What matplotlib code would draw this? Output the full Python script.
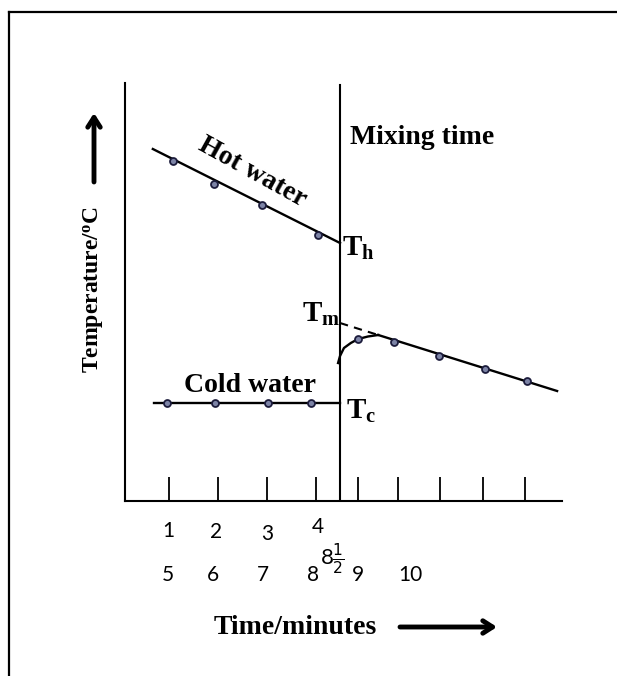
import numpy as np
import matplotlib
matplotlib.use('Agg')
from matplotlib import pyplot as plt

plt.rcParams['mathtext.fontset'] = 'custom'
plt.rcParams['mathtext.rm'] = 'Liberation Serif'
plt.rcParams['mathtext.bf'] = 'Liberation Serif:bold'

# time axis in tick units (1 tick = 1 reading), temperature in arbitrary units
tick_t = [1, 2, 3, 4, 4.86, 5.67, 6.53, 7.41, 8.27]
mix_t = 4.49

hot_t = [1.08, 1.92, 2.9, 4.04]
hot_T = [34.0, 31.7, 29.6, 26.6]
hot_line_t = [0.67, 4.49]
hot_line_T = [35.2, 25.8]

cold_t = [0.96, 1.94, 3.02, 3.9]
cold_T = [9.8, 9.8, 9.8, 9.8]
cold_line_t = [0.69, 4.49]
cold_line_T = [9.8, 9.8]

mixed_t = [4.86, 5.59, 6.51, 7.45, 8.31]
mixed_T = [16.2, 15.9, 14.5, 13.2, 12.0]
curve_t = [4.45, 4.49, 4.57, 4.71, 4.86, 5.06, 5.27]
curve_T = [13.8, 14.5, 15.3, 15.8, 16.2, 16.45, 16.6]
cool_line_t = [5.27, 8.92]
cool_line_T = [16.6, 11.0]
extrap_t = [4.49, 5.27]
extrap_T = [17.8, 16.6]

row1_labels = ['1', '2', '3', '4']
row1_t = [0.98, 1.97, 3.0, 4.04]
row2_labels = ['5', '6', '7', '8', '9', '10']
row2_t = [0.98, 1.9, 2.92, 3.94, 4.86, 5.93]

W, H = 617, 676
fig = plt.figure(figsize=(W/100, H/100), dpi=100)

def fx(px):
    return px / W

def fy(py):
    return 1 - py / H

# frame
fig.add_artist(plt.Line2D([fx(9), fx(617)], [fy(12), fy(12)], color='black', lw=1.6))
fig.add_artist(plt.Line2D([fx(9), fx(9)], [fy(12), fy(676)], color='black', lw=1.6))

ax = fig.add_axes([fx(125), fy(501), fx(562) - fx(125), fy(83) - fy(501)])
ax.set_xlim(0.102, 9.02)
ax.set_ylim(0, 41.8)
ax.spines['top'].set_visible(False)
ax.spines['right'].set_visible(False)
ax.spines['left'].set_linewidth(1.5)
ax.spines['bottom'].set_linewidth(1.5)
ax.set_xticks(tick_t)
ax.set_yticks([])
ax.tick_params(axis='x', direction='in', length=17, width=1.3, labelbottom=False)
ax.patch.set_visible(False)

dot = dict(marker='o', ms=5, mfc='#7d84a6', mec='#1c1c3c', mew=1.3, ls='none')

ax.plot([mix_t, mix_t], [0, 41.6], color='black', lw=1.5)
ax.plot(hot_line_t, hot_line_T, color='black', lw=1.7)
ax.plot(hot_t, hot_T, **dot)
ax.plot(cold_line_t, cold_line_T, color='black', lw=1.7)
ax.plot(cold_t, cold_T, **dot)
ax.plot(curve_t, curve_T, color='black', lw=1.7)
ax.plot(cool_line_t, cool_line_T, color='black', lw=1.7)
ax.plot(extrap_t, extrap_T, color='black', lw=1.5, ls=(0, (4, 3)))
ax.plot(mixed_t, mixed_T, **dot)

serif = dict(family='Liberation Serif', weight='bold', color='black')

fig.text(fx(252), fy(172), 'Hot water', fontsize=20, rotation=-29,
         ha='center', va='center', rotation_mode='anchor', **serif)
fig.text(fx(250), fy(385), 'Cold water', fontsize=20, ha='center', va='center', **serif)
fig.text(fx(422), fy(138), 'Mixing time', fontsize=20, ha='center', va='center', **serif)
fig.text(fx(295), fy(627), 'Time/minutes', fontsize=20, ha='center', va='center', **serif)
fig.text(fx(93), fy(290), r'Temperature/$\mathbf{^o}$C', fontsize=17, rotation=90,
         ha='center', va='center', **serif)

fig.text(fx(342), fy(256), r'$\mathbf{T_h}$', fontsize=21, ha='left', va='baseline', **serif)
fig.text(fx(302), fy(322), r'$\mathbf{T_m}$', fontsize=21, ha='left', va='baseline', **serif)
fig.text(fx(346), fy(419), r'$\mathbf{T_c}$', fontsize=21, ha='left', va='baseline', **serif)

trans = ax.get_xaxis_transform()
row1_y = [-0.072, -0.075, -0.08, -0.062]
for lab, t, yy in zip(row1_labels, row1_t, row1_y):
    ax.text(t, yy, lab, transform=trans, fontsize=15, family='Lato',
            ha='center', va='center')
for lab, t in zip(row2_labels, row2_t):
    ax.text(t, -0.178, lab, transform=trans, fontsize=15, family='Lato',
            ha='center', va='center')
ax.text(4.33, -0.137, r'8$\frac{1}{2}$', transform=trans, fontsize=16, family='Lato',
        math_fontfamily='dejavusans', ha='center', va='center')

arrow = dict(arrowstyle='->, head_length=0.7, head_width=0.45', lw=3.5, color='black',
             shrinkA=0, shrinkB=0)
ax.annotate('', xy=(94, H - 113), xytext=(94, H - 182), xycoords='figure pixels',
            textcoords='figure pixels', arrowprops=arrow, annotation_clip=False)
ax.annotate('', xy=(497, H - 627), xytext=(400, H - 627), xycoords='figure pixels',
            textcoords='figure pixels', arrowprops=arrow, annotation_clip=False)

fig.savefig('out.png', dpi=100)
